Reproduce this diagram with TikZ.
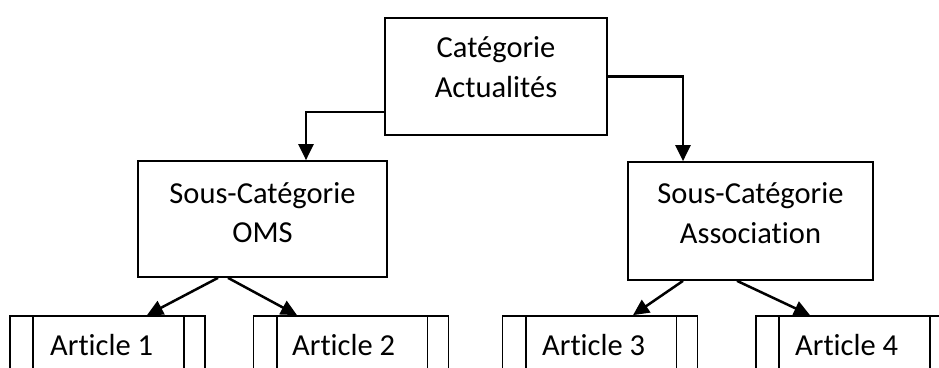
\documentclass[tikz,border=0pt]{standalone}
\usepackage{fontspec}
\setmainfont{Carlito}[Ligatures={NoCommon}]
\usetikzlibrary{arrows.meta}
\tikzset{
  box/.style={draw=black, line width=1.7pt, rectangle, inner sep=0pt},
  lbl/.style={inner sep=0pt, anchor=base, font=\fontsize{30.5}{40}\selectfont},
  conn/.style={draw=black, line width=2.5pt, -{Triangle[length=16pt,width=15pt]}},
  artline/.style={draw=black, line width=1.7pt}
}
\begin{document}
\begin{tikzpicture}[x=1pt,y=-1pt]
\useasboundingbox (0,0) rectangle (939,367);
\clip (0,0) rectangle (939,367);
\fill[white] (0,0) rectangle (939,367);

% boxes
\node[box, minimum width=222pt, minimum height=117pt] (top) at (496,76.5) {};
\node[box, minimum width=249pt, minimum height=116pt] (oms) at (262.5,219) {};
\node[box, minimum width=245pt, minimum height=118pt] (assoc) at (750.5,221) {};

% texts
\node[lbl] (t1) at (496,57) {Catégorie};
\node[lbl] (t2) at (496,97) {Actualités};
\node[lbl] (o1) at (262.5,203) {Sous-Catégorie};
\node[lbl] (o2) at (262.5,242) {OMS};
\node[lbl] (s1) at (750.5,203) {Sous-Catégorie};
\node[lbl] (s2) at (750.5,243) {Association};

% article boxes (extend below the frame)
\foreach \n/\cx in {a1/107.5, a2/351, a3/600, a4/853.5}{
  \node[box, minimum width=195pt, minimum height=84pt] (\n) at (\cx,358) {};
  \draw[artline] ([xshift=24pt]\n.north west) -- ([xshift=24pt]\n.south west);
  \draw[artline] ([xshift=-22pt]\n.north east) -- ([xshift=-22pt]\n.south east);
}
\node[lbl, anchor=base west] (l1) at (50,355) {Article 1};
\node[lbl, anchor=base west] (l2) at (292,355) {Article 2};
\node[lbl, anchor=base west] (l3) at (542,355) {Article 3};
\node[lbl, anchor=base west] (l4) at (795,355) {Article 4};

% connectors
\draw[conn] ([yshift=-35.5pt]top.west) -| ([xshift=43.5pt]oms.north);
\draw[conn] (top.east) -| ([xshift=-67.5pt]assoc.north);
\draw[conn] ([xshift=-44.5pt]oms.south) -- ([xshift=39.5pt]a1.north);
\draw[conn] ([xshift=-34.5pt]oms.south) -- ([xshift=-54pt]a2.north);
\draw[conn] ([xshift=-67.5pt]assoc.south) -- ([xshift=33pt]a3.north);
\draw[conn] ([xshift=-13.5pt]assoc.south) -- ([xshift=-43.5pt]a4.north);
\end{tikzpicture}
\end{document}
